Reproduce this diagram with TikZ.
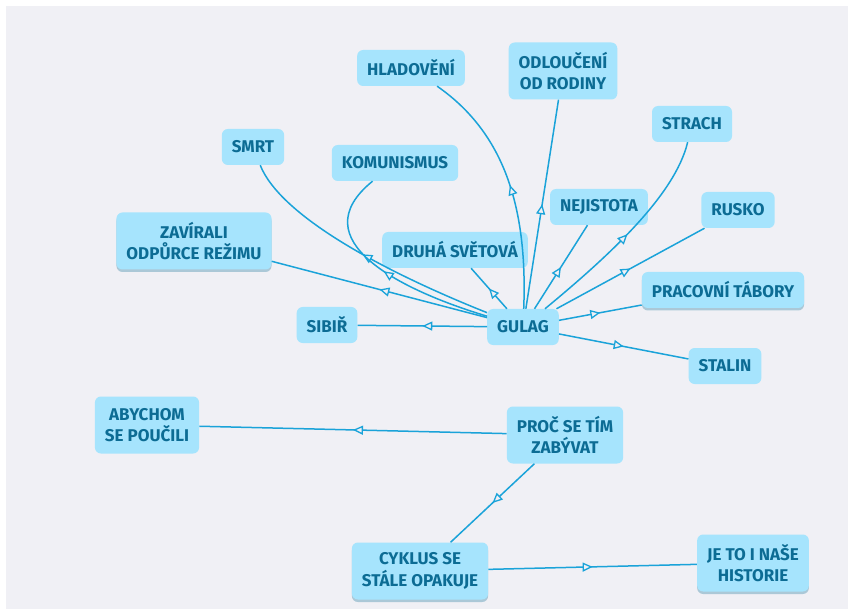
\documentclass[tikz,border=0pt]{standalone}
\usepackage{fontspec}
\setmainfont{Fira Sans}
\usetikzlibrary{arrows.meta, decorations.markings, shadows}
\definecolor{mapbg}{RGB}{240,240,245}
\definecolor{topicfill}{RGB}{166,228,253}
\definecolor{topictext}{RGB}{12,108,148}
\definecolor{linkblue}{RGB}{26,163,217}

\tikzset{
  topic/.style={fill=topicfill, text=topictext, rounded corners=6pt,
    inner xsep=10pt, inner ysep=4pt, minimum height=36pt, align=center,
    font=\fontsize{17}{21.5}\selectfont\bfseries},
  tall/.style={minimum height=57pt},
  raised/.style={drop shadow={shadow xshift=0pt, shadow yshift=-2.5pt,
    opacity=0.3, fill=topictext}},
  link/.style={linkblue, line width=1.5pt, postaction={decorate},
    decoration={markings, mark=at position 0.5 with
      {\arrow{Triangle[length=10pt, width=9pt, line width=1.3pt, fill=mapbg]}}}}
}

\begin{document}
\begin{tikzpicture}[x=1pt, y=-1pt]
    \useasboundingbox (0,0) rectangle (848,609);
    \fill[mapbg] (6,6) rectangle (848,609);

    % Centre
    \node[topic] (gulag) at (523,327) {GULAG};

    % Around it
    \node[topic] (hladoveni) at (411,68) {HLADOVĚNÍ};
    \node[topic, tall] (odlouceni) at (563,71) {ODLOUČENÍ\\OD RODINY};
    \node[topic] (smrt) at (253,147) {SMRT};
    \node[topic] (komunismus) at (395,163) {KOMUNISMUS};
    \node[topic, tall, raised] (zavirali) at (194,241) {ZAVÍRALI\\ODPŮRCE REŽIMU};
    \node[topic] (druha) at (455,250) {DRUHÁ SVĚTOVÁ};
    \node[topic] (sibir) at (327,325) {SIBIŘ};
    \node[topic] (nejistota) at (599,207) {NEJISTOTA};
    \node[topic] (strach) at (692,124) {STRACH};
    \node[topic] (rusko) at (738,210) {RUSKO};
    \node[topic, raised] (pracovni) at (723,290) {PRACOVNÍ TÁBORY};
    \node[topic] (stalin) at (725,366) {STALIN};

    % Lower group
    \node[topic, tall] (proc) at (565,435) {PROČ SE TÍM\\ZABÝVAT};
    \node[topic, tall] (abychom) at (147,425) {ABYCHOM\\SE POUČILI};
    \node[topic, tall, raised] (cyklus) at (420,571) {CYKLUS SE\\STÁLE OPAKUJE};
    \node[topic, tall, raised] (jeto) at (753,563) {JE TO I NAŠE\\HISTORIE};

    % Links from the centre
    \draw[link] (gulag) -- (sibir);
    \draw[link] (gulag) -- (zavirali);
    \draw[link] (gulag) .. controls (380,270) and (280,215) .. (smrt);
    \draw[link] (gulag) .. controls (400,290) and (300,240) .. (komunismus);
    \draw[link] (gulag) -- (druha);
    \draw[link] (gulag) .. controls (528,200) and (500,130) .. (hladoveni);
    \draw[link] (gulag) -- (odlouceni);
    \draw[link] (gulag) -- (nejistota);
    \draw[link] (gulag) .. controls (610,255) and (675,195) .. (strach);
    \draw[link] (gulag) -- (rusko);
    \draw[link] (gulag) -- (pracovni);
    \draw[link] (gulag) -- (stalin);

    % Links below
    \draw[link] (proc) -- (abychom);
    \draw[link] (proc) -- (cyklus);
    \draw[link] (cyklus) -- (jeto);
\end{tikzpicture}
\end{document}
